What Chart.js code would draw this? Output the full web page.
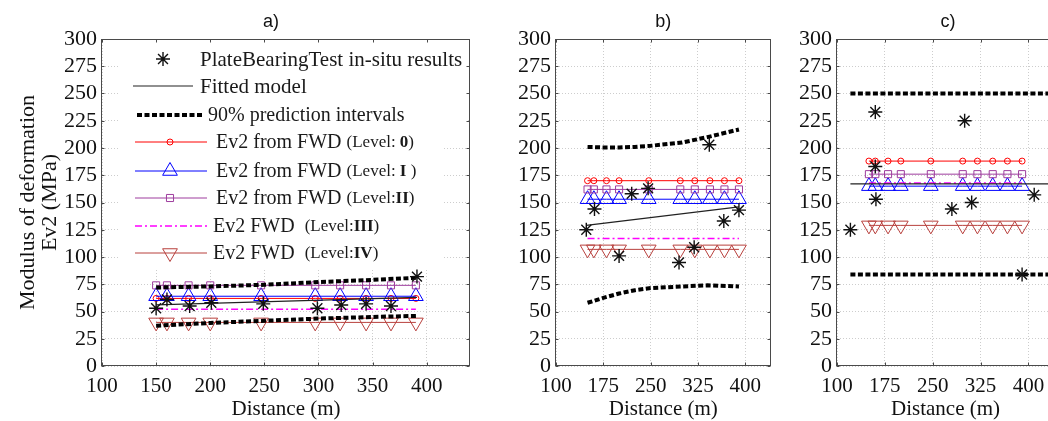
<!DOCTYPE html>
<html>
<head>
<meta charset="utf-8">
<script src="https://cdn.jsdelivr.net/npm/chart.js@4/dist/chart.umd.min.js"></script>
<style>
html, body { margin: 0; padding: 0; background: #fff; width: 1048px; height: 421px; overflow: hidden; position: relative; }
canvas { position: absolute; top: 0; }
</style>
</head>
<body>
<canvas id="chartA" width="480" height="421" style="left:0px"></canvas>
<canvas id="chartB" width="300" height="421" style="left:480px"></canvas>
<canvas id="chartC" width="300" height="421" style="left:780px"></canvas>
<script>
// ticks
const yTicks = [0, 25, 50, 75, 100, 125, 150, 175, 200, 225, 250, 275, 300];
const xTicksA = [100, 150, 200, 250, 300, 350, 400];
const xTicksBC = [100, 175, 250, 325, 400];

// FWD stations (same in all panels)
const fwdDistance = [150, 160, 180, 200, 247, 297, 320, 344, 367, 390];
const levelNames = ['0', 'I', 'II', 'III', 'IV'];

// a)
const plateDistA = [150, 160, 181, 201, 249, 299, 321, 344, 367, 391];
const plateEv2A = [53, 61, 55, 58, 57, 53, 56, 57, 55, 82];
const fitDistA = [150, 391];
const fitEv2A = [56, 63];
const piDistA = [150, 200, 250, 300, 350, 391];
const piUpperA = [72, 73, 74.5, 77, 79, 81];
const piLowerA = [37, 39.5, 41.5, 43.5, 45, 46];
const fwdLevelsA = [62, 64, 74, 52, 40]; // level 0, I, II, III, IV

// b)
const plateDistB = [148, 161, 200, 220, 246, 295, 319, 343, 366, 390];
const plateEv2B = [125, 144, 101, 158, 163, 95, 109, 203, 133, 143];
const fitDistB = [148, 390];
const fitEv2B = [129, 146];
const piDistB = [150, 175, 200, 225, 250, 300, 340, 390];
const piUpperB = [201, 200.5, 200.5, 201, 202, 205, 210, 217];
const piLowerB = [58, 62.5, 66.5, 69.5, 71.5, 73, 74, 73];
const fwdLevelsB = [170, 153, 162, 117, 107];

// c)
const plateDistC = [121, 160, 160, 161, 280, 300, 311, 390, 409];
const plateEv2C = [125, 233, 183, 153, 144, 225, 150, 84, 157];
const fitDistC = [121, 440];
const fitEv2C = [167, 167];
const piDistC = [121, 440];
const piUpperC = [250, 250];
const piLowerC = [84, 84];
const fwdLevelsC = [188, 165, 176, 168, 129];

const serif = '"Liberation Serif", "Times New Roman", serif';
Chart.defaults.font.family = serif;
Chart.defaults.color = '#111';

// colors / markers for level 0..IV
const fwdStyles = [
    {color: '#ff0000', pointStyle: 'circle', radius: 3, rotation: 0, dash: [], width: 1},
    {color: '#0000ff', pointStyle: 'triangle', radius: 8.5, rotation: 0, dash: [], width: 1},
    {color: '#9e3d9e', pointStyle: 'rect', radius: 5, rotation: 0, dash: [], width: 1},
    {color: '#ff00ff', pointStyle: false, radius: 0, rotation: 0, dash: [7, 3, 2, 3], width: 1.5},
    {color: '#b8403d', pointStyle: 'triangle', radius: 8.5, rotation: 180, dash: [], width: 1}
];

function xy(xs, ys) {
    return xs.map((x, i) => ({x: x, y: ys[i]}));
}

function buildDatasets(plateDist, plateEv2, fitDist, fitEv2, piDist, piUpper, piLower, levels) {
    const sets = [];
    sets.push({
        label: 'PlateBearingTest in-situ results',
        data: xy(plateDist, plateEv2),
        showLine: false,
        pointStyle: 'star', pointRadius: 7, pointBorderWidth: 1.4,
        borderColor: '#111', pointBackgroundColor: 'rgba(0,0,0,0)'
    });
    [piUpper, piLower].forEach(vals => {
        sets.push({
            label: '90% prediction intervals',
            data: xy(piDist, vals),
            showLine: true, pointRadius: 0,
            borderColor: '#000', borderWidth: 4, borderDash: [5, 2.5], borderCapStyle: 'butt'
        });
    });
    sets.push({
        label: 'Fitted model',
        data: xy(fitDist, fitEv2),
        showLine: true, pointRadius: 0,
        borderColor: '#222', borderWidth: 1.2
    });
    for (let k = levels.length - 1; k >= 0; k--) {
        const st = fwdStyles[k];
        sets.push({
            label: 'Level ' + levelNames[k],
            data: fwdDistance.map(x => ({x: x, y: levels[k]})),
            showLine: true,
            borderColor: st.color, borderWidth: st.width, borderDash: st.dash,
            pointStyle: st.pointStyle, pointRadius: st.radius, pointRotation: st.rotation,
            pointBorderWidth: 1, pointBackgroundColor: 'rgba(0,0,0,0)', pointBorderColor: st.color
        });
    }
    return sets;
}

const panelFrame = {
    id: 'panelFrame',
    afterDraw(chart, args, opts) {
        const ctx = chart.ctx;
        const a = chart.chartArea;
        const l = Math.round(a.left) - 0.5, r = Math.round(a.right) - 0.5;
        const t = Math.round(a.top) + 0.5, b = Math.round(a.bottom) - 0.5;
        ctx.save();
        ctx.strokeStyle = '#4a4a4a';
        ctx.lineWidth = 1;
        ctx.strokeRect(l, t, r - l, b - t);
        ctx.beginPath();
        chart.scales.x.ticks.forEach(tk => {
            const px = Math.round(chart.scales.x.getPixelForValue(tk.value)) + 0.5;
            ctx.moveTo(px, b); ctx.lineTo(px, b - 3);
            ctx.moveTo(px, t); ctx.lineTo(px, t + 3);
        });
        chart.scales.y.ticks.forEach(tk => {
            const py = Math.round(chart.scales.y.getPixelForValue(tk.value)) + 0.5;
            ctx.moveTo(l, py); ctx.lineTo(l + 3, py);
            ctx.moveTo(r, py); ctx.lineTo(r - 3, py);
        });
        ctx.stroke();
        ctx.fillStyle = '#111';
        ctx.font = '18px "Liberation Sans", Arial, sans-serif';
        ctx.textAlign = 'center';
        ctx.textBaseline = 'middle';
        const tx = opts.titleX != null ? opts.titleX : (a.left + a.right) / 2;
        ctx.fillText(opts.title, tx, 22);
        ctx.restore();
    }
};

const matLegend = {
    id: 'matLegend',
    beforeDatasetsDraw(chart, args, opts) {
        if (!opts.rows) return;
        const ctx = chart.ctx;
        ctx.save();
        ctx.fillStyle = '#fff';
        opts.boxes.forEach(bx => ctx.fillRect(bx[0], bx[1], bx[2], bx[3]));
        ctx.restore();
    },
    afterDatasetsDraw(chart, args, opts) {
        if (!opts.rows) return;
        const ctx = chart.ctx;
        opts.rows.forEach(row => {
            const ds = chart.data.datasets[row.ds];
            ctx.save();
            ctx.strokeStyle = ds.borderColor;
            if (row.x0 != null) {
                ctx.lineWidth = ds.borderWidth;
                ctx.lineCap = 'butt';
                ctx.setLineDash(ds.borderDash || []);
                ctx.beginPath();
                ctx.moveTo(row.x0, row.y);
                ctx.lineTo(row.x1, row.y);
                ctx.stroke();
                ctx.setLineDash([]);
            }
            if (row.mx != null && ds.pointStyle && ds.pointRadius > 0) {
                ctx.lineWidth = ds.pointBorderWidth || 1;
                ctx.fillStyle = 'rgba(0,0,0,0)';
                Chart.helpers.drawPoint(ctx, {
                    pointStyle: ds.pointStyle, rotation: ds.pointRotation || 0,
                    radius: ds.pointRadius, borderWidth: ctx.lineWidth
                }, row.mx, row.y);
            }
            let x = row.tx;
            ctx.fillStyle = '#1a1a1a';
            ctx.textBaseline = 'middle';
            ctx.textAlign = 'left';
            row.parts.forEach(p => {
                ctx.font = p[1];
                ctx.fillText(p[0], x, row.y + 1);
                x += ctx.measureText(p[0]).width;
            });
            ctx.restore();
        });
    }
};

function scalesFor(xTicks, yWidth, showYTitle) {
    const gridOpts = {color: '#cdcdcd', lineWidth: 1, drawTicks: false};
    const borderOpts = {display: false, dash: [1, 2]};
    return {
        x: {
            type: 'linear', min: 100, max: 440,
            afterBuildTicks: s => { s.ticks = xTicks.map(v => ({value: v})); },
            afterFit: s => { s.height = 55; },
            ticks: {padding: 8, font: {size: 21}, maxRotation: 0, autoSkip: false},
            grid: gridOpts,
            border: borderOpts,
            title: {display: true, text: 'Distance (m)', font: {size: 21, lineHeight: 1.1}, padding: {top: 0, bottom: 0}}
        },
        y: {
            type: 'linear', min: 0, max: 300,
            afterBuildTicks: s => { s.ticks = yTicks.map(v => ({value: v})); },
            afterFit: s => { s.width = yWidth; },
            ticks: {padding: 5, font: {size: 22}, autoSkip: false},
            grid: gridOpts,
            border: borderOpts,
            title: {display: showYTitle, text: ['Modulus of deformation', 'Ev2 (MPa)'], font: {size: 22, lineHeight: 1.0}, padding: {top: 17, bottom: 0}}
        }
    };
}

const small = '17px ' + serif;
const smallBold = 'bold 17px ' + serif;
const main = '20px ' + serif;
const legendRows = [
    {ds: 0, y: 59, mx: 163, tx: 200, parts: [['PlateBearingTest in-situ results', '21px ' + serif]]},
    {ds: 3, y: 86, x0: 133, x1: 193, tx: 200, parts: [['Fitted model', '21px ' + serif]]},
    {ds: 1, y: 115, x0: 137, x1: 203, tx: 208, parts: [['90% prediction intervals', main]]},
    {ds: 8, y: 142, x0: 135, x1: 207, mx: 170, tx: 216, parts: [['Ev2 from FWD ', main], ['(Level: ', small], [levelNames[0], smallBold], [')', small]]},
    {ds: 7, y: 171, x0: 135, x1: 207, mx: 170, tx: 216, parts: [['Ev2 from FWD ', main], ['(Level: ', small], [levelNames[1], smallBold], [' )', small]]},
    {ds: 6, y: 198, x0: 135, x1: 207, mx: 170, tx: 216, parts: [['Ev2 from FWD ', main], ['(Level:', small], [levelNames[2], smallBold], [')', small]]},
    {ds: 5, y: 226, x0: 135, x1: 207, tx: 213, parts: [['Ev2 FWD  ', main], ['(Level:', small], [levelNames[3], smallBold], [')', small]]},
    {ds: 4, y: 253, x0: 135, x1: 207, mx: 170, tx: 213, parts: [['Ev2 FWD  ', main], ['(Level:', small], [levelNames[4], smallBold], [')', small]]}
];

function makePanel(id, datasets, xTicks, yWidth, showYTitle, padRight, frameOpts, legendOpts) {
    return new Chart(document.getElementById(id), {
        type: 'scatter',
        data: {datasets: datasets},
        options: {
            responsive: false,
            animation: false,
            devicePixelRatio: 1,
            layout: {padding: {top: 39, right: padRight, bottom: 0, left: 0}},
            scales: scalesFor(xTicks, yWidth, showYTitle),
            plugins: {
                legend: {display: false},
                tooltip: {enabled: false},
                panelFrame: frameOpts,
                matLegend: legendOpts
            }
        },
        plugins: [matLegend, panelFrame]
    });
}

makePanel('chartA',
    buildDatasets(plateDistA, plateEv2A, fitDistA, fitEv2A, piDistA, piUpperA, piLowerA, fwdLevelsA),
    xTicksA, 102, true, 10,
    {title: 'a)', titleX: 271},
    {rows: legendRows, boxes: [[118, 41, 348, 90], [118, 131, 325, 137]]});

makePanel('chartB',
    buildDatasets(plateDistB, plateEv2B, fitDistB, fitEv2B, piDistB, piUpperB, piLowerB, fwdLevelsB),
    xTicksBC, 76, false, 8,
    {title: 'b)'}, {});

makePanel('chartC',
    buildDatasets(plateDistC, plateEv2C, fitDistC, fitEv2C, piDistC, piUpperC, piLowerC, fwdLevelsC),
    xTicksBC, 57, false, 26,
    {title: 'c)', titleX: 168}, {});
</script>
</body>
</html>
